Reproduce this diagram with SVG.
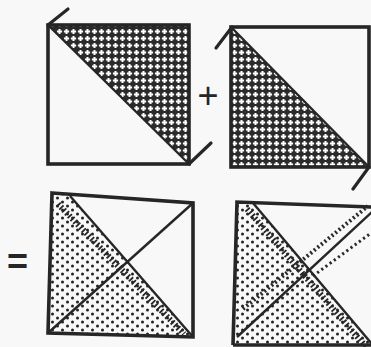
<svg xmlns="http://www.w3.org/2000/svg" width="371" height="347" viewBox="0 0 371 347">
  <defs>
    <pattern id="hatch" width="7" height="7" patternUnits="userSpaceOnUse">
      <rect width="7" height="7" fill="#2b2b2b"/>
      <path d="M3.5 0.9 V6.1 M0.9 3.5 H6.1" stroke="#ffffff" stroke-width="2"/>
    </pattern>
    <pattern id="dots" width="10" height="8" patternUnits="userSpaceOnUse">
      <circle cx="2.5" cy="2" r="1.5" fill="#222"/>
      <circle cx="7.5" cy="6" r="1.5" fill="#222"/>
    </pattern>
  </defs>
  <style>
    .frame { fill: none; stroke: #262626; stroke-width: 3.6; stroke-linejoin: miter; }
    .diag { fill: none; stroke: #262626; stroke-width: 2.4; }
    .tick { fill: none; stroke: #262626; stroke-width: 3.2; stroke-linecap: round; }
    .band { fill: none; stroke: #262626; stroke-width: 6; stroke-dasharray: 1.8 2.2; }
    .chev { fill: none; stroke: #2a2a2a; stroke-width: 4; stroke-dasharray: 2 2.6; }
    .dotline { fill: none; stroke: #2a2a2a; stroke-width: 3; stroke-dasharray: 2.2 3; }
    .op { font-family: "Liberation Sans", Arial, sans-serif; fill: #262626; }
  </style>
  <rect width="371" height="347" fill="#f8f8f8"/>

  <g id="panel-a">
    <polygon points="48,25 189,25 189,164" fill="url(#hatch)"/>
    <rect class="frame" x="48" y="25" width="141" height="139"/>
    <line class="diag" x1="48" y1="25" x2="189" y2="164"/>
    <line class="tick" x1="48" y1="25" x2="68" y2="9"/>
    <line class="tick" x1="189" y1="164" x2="211" y2="143"/>
  </g>

  <g id="op-plus">
    <text class="op" x="208" y="108" font-size="36" text-anchor="middle">+</text>
  </g>

  <g id="panel-b">
    <polygon points="231,27 231,167 369,167" fill="url(#hatch)"/>
    <rect class="frame" x="231" y="27" width="138" height="140"/>
    <line class="diag" x1="231" y1="27" x2="369" y2="167"/>
    <line class="tick" x1="232" y1="27" x2="216" y2="48"/>
    <line class="tick" x1="369" y1="167" x2="353" y2="189"/>
  </g>

  <g id="op-eq">
    <text class="op" x="17.5" y="274" font-size="36" font-weight="bold" text-anchor="middle">=</text>
  </g>

  <g id="panel-c">
    <polygon points="52,193 70,196 193,337 48,333" fill="url(#dots)"/>
    <line class="band" x1="58" y1="204" x2="184" y2="334"/>
    <polygon class="frame" points="52,193 193,203 193,337 48,333"/>
    <line class="diag" x1="70" y1="196" x2="193" y2="337"/>
    <line class="diag" x1="48" y1="333" x2="193" y2="203"/>
  </g>

  <g id="panel-d">
    <polygon points="237,202 253,203 371,343 371,346 233,346" fill="url(#dots)"/>
    <line class="band" x1="247" y1="209" x2="366" y2="347"/>
    <line class="chev" x1="243" y1="309" x2="368" y2="206"/>
    <line class="dotline" x1="313" y1="276" x2="371" y2="233"/>
    <polyline class="frame" points="233,345 237,202 373,207"/>
    <line class="frame" x1="233" y1="345" x2="373" y2="345"/>
    <line class="diag" x1="253" y1="203" x2="372" y2="344"/>
    <line class="diag" x1="237" y1="337" x2="372" y2="212"/>
  </g>
</svg>
